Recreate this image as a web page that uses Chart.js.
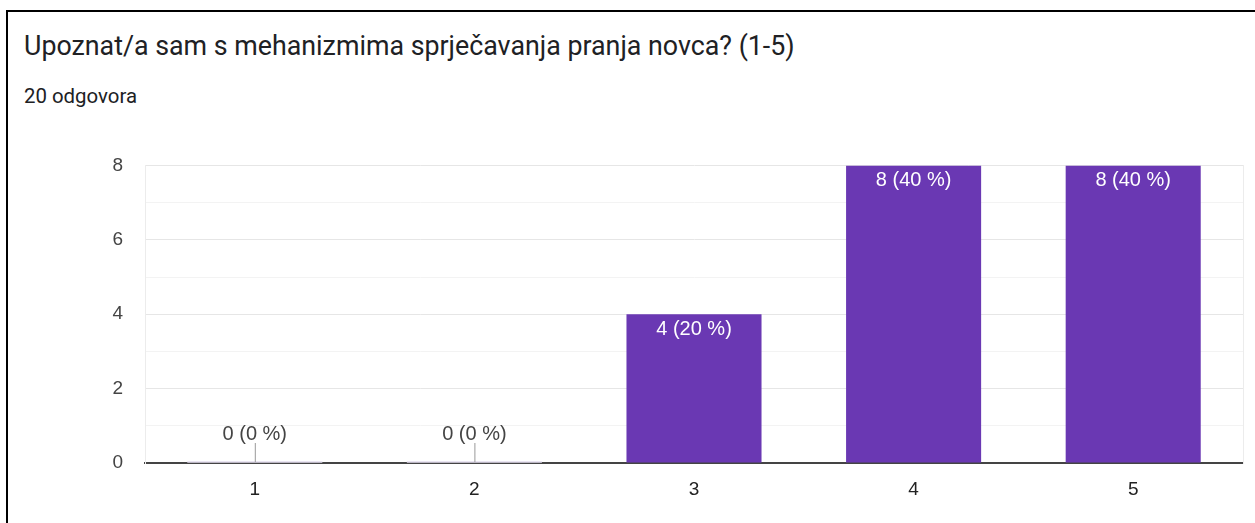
<!DOCTYPE html>
<html>
<head>
<meta charset="utf-8">
<script src="https://cdn.jsdelivr.net/npm/chart.js@4"></script>
<style>
  html, body { margin: 0; padding: 0; background: #fff; }
  body { width: 1255px; height: 523px; position: relative; overflow: hidden; }
  #frame { position: absolute; left: 6px; top: 10px; width: 1300px; height: 600px; border: 2px solid #000; box-sizing: border-box; }
  #title { position: absolute; left: 24px; top: 30px; font-family: Roboto, "Open Sans", sans-serif; font-size: 26.8px; color: #202124; white-space: nowrap; }
  #sub { position: absolute; left: 24px; top: 84px; font-family: Roboto, sans-serif; font-size: 20.4px; color: #202124; white-space: nowrap; }
  #wrap { position: absolute; left: 0; top: 132px; width: 1255px; height: 391px; }
</style>
</head>
<body>
<div id="frame"></div>
<div id="title">Upoznat/a sam s mehanizmima sprječavanja pranja novca? (1-5)</div>
<div id="sub">20 odgovora</div>
<div id="wrap"><canvas id="c"></canvas></div>
<script>
const categories = ['1', '2', '3', '4', '5'];
const counts = [0, 0, 4, 8, 8];
const percents = [0, 0, 20, 40, 40];
const yTicks = [0, 2, 4, 6, 8];

const FONT = '"Liberation Sans", Arial, sans-serif';

const labelPlugin = {
  id: 'barLabels',
  afterDatasetsDraw(chart) {
    const ctx = chart.ctx;
    const meta = chart.getDatasetMeta(0);
    const yScale = chart.scales.y;
    ctx.save();
    ctx.font = '20px ' + FONT;
    ctx.textAlign = 'center';
    ctx.textBaseline = 'middle';
    meta.data.forEach((bar, i) => {
      const text = counts[i] + ' (' + percents[i] + ' %)';
      if (counts[i] > 0) {
        ctx.fillStyle = '#ffffff';
        ctx.fillText(text, bar.x, bar.y + 15);
      } else {
        const base = yScale.getPixelForValue(0);
        ctx.strokeStyle = '#e3dcee';
        ctx.lineWidth = 1.5;
        ctx.beginPath();
        ctx.moveTo(bar.x - bar.width / 2, base - 1);
        ctx.lineTo(bar.x + bar.width / 2, base - 1);
        ctx.stroke();
        ctx.strokeStyle = '#999999';
        ctx.lineWidth = 1;
        ctx.beginPath();
        ctx.moveTo(bar.x + 0.5, base - 1);
        ctx.lineTo(bar.x + 0.5, base - 20);
        ctx.stroke();
        ctx.fillStyle = '#444444';
        ctx.fillText(text, bar.x, base - 29);
      }
    });
    ctx.restore();
  }
};

new Chart(document.getElementById('c'), {
  type: 'bar',
  data: {
    labels: categories,
    datasets: [{
      data: counts,
      backgroundColor: '#6a38b3',
      borderWidth: 0,
      categoryPercentage: 1,
      barPercentage: 0.615
    }]
  },
  options: {
    responsive: true,
    maintainAspectRatio: false,
    animation: false,
    layout: { padding: { top: 17, right: 12, left: 0, bottom: 0 } },
    plugins: { legend: { display: false }, tooltip: { enabled: false } },
    scales: {
      x: {
        grid: { display: false },
        border: { display: true, color: '#444444', width: 2 },
        ticks: { color: '#222222', padding: 7, font: { family: FONT, size: 19 } },
        afterFit(s) { s.height = 60; }
      },
      y: {
        min: 0, max: 8,
        grid: {
          drawTicks: false,
          color: c => c.tick.value === 0 ? 'transparent' : (c.tick.value % 2 === 0 ? '#e6e6e6' : '#f3f3f3')
        },
        border: { display: true, color: '#ececec', width: 1 },
        ticks: {
          stepSize: 1,
          padding: 22,
          color: '#444444',
          font: { family: FONT, size: 19 },
          callback: v => yTicks.includes(v) ? String(v) : ''
        },
        afterFit(s) { s.width = 145; }
      },
      y2: {
        position: 'right',
        min: 0, max: 8,
        grid: { display: false },
        ticks: { display: false },
        border: { display: true, color: '#ececec', width: 1 },
        afterFit(s) { s.width = 0; }
      }
    }
  },
  plugins: [labelPlugin]
});
</script>
</body>
</html>
